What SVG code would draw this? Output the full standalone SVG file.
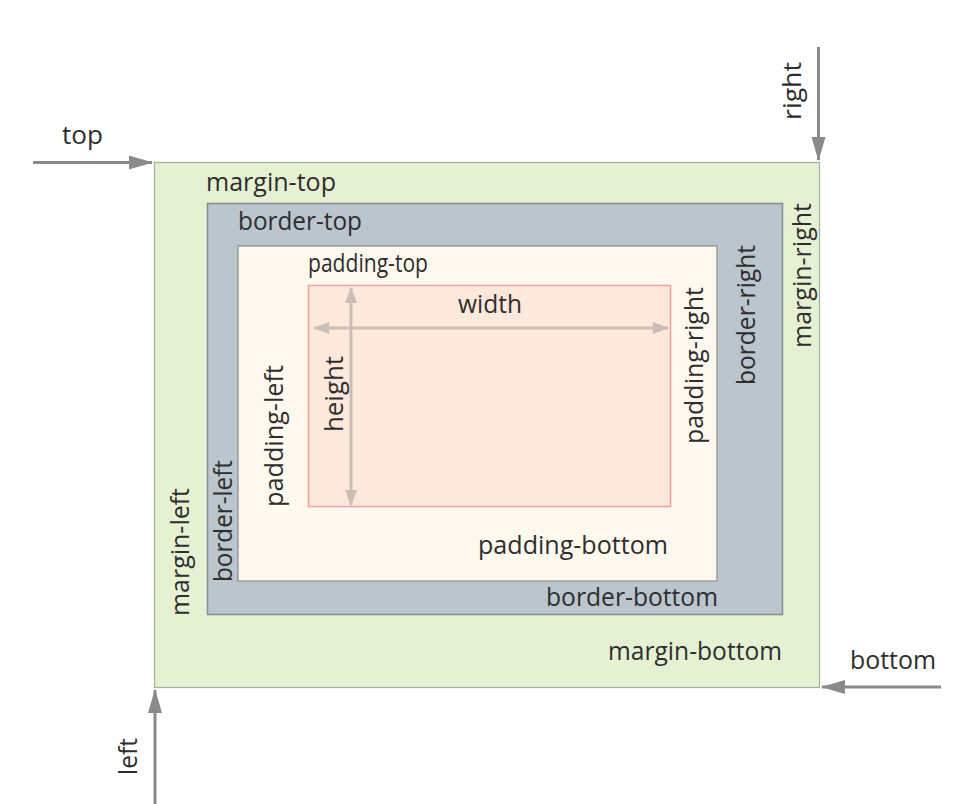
<svg xmlns="http://www.w3.org/2000/svg" width="961" height="804" viewBox="0 0 961 804">
<style>
text { font-family: "Open Sans", "Liberation Sans", sans-serif; font-size: 25px; fill: #2e2e2e; }
.outer { stroke: #8a8a8a; stroke-width: 3; fill: none; }
.inner { stroke: #cbbfb5; stroke-width: 3; fill: none; }
</style>
<defs>
<marker id="ah" markerUnits="userSpaceOnUse" markerWidth="24" markerHeight="14" refX="23" refY="7" orient="auto">
<path d="M0,0 L24,7 L0,14 Z" fill="#8a8a8a"/>
</marker>
<marker id="ahi" markerUnits="userSpaceOnUse" markerWidth="16" markerHeight="12" refX="15" refY="6" orient="auto-start-reverse">
<path d="M0,0 L16,6 L0,12 Z" fill="#cbbfb5"/>
</marker>
</defs>
<rect width="961" height="804" fill="#ffffff"/>
<g id="margin-box">
<rect x="154.5" y="162.5" width="665" height="525" fill="#e6f1d3" stroke="#a6b197" stroke-width="1.2"/>
<text x="206" y="191" textLength="130" lengthAdjust="spacingAndGlyphs">margin-top</text>
<text x="608" y="660" textLength="174" lengthAdjust="spacingAndGlyphs">margin-bottom</text>
<text transform="translate(189,616) rotate(-90)" textLength="128" lengthAdjust="spacingAndGlyphs">margin-left</text>
<text transform="translate(811,348) rotate(-90)" textLength="145" lengthAdjust="spacingAndGlyphs">margin-right</text>
</g>
<g id="border-box">
<rect x="207.5" y="203.5" width="575" height="411" fill="#bac5cd" stroke="#858d93" stroke-width="1.5"/>
<text x="238" y="230" textLength="124" lengthAdjust="spacingAndGlyphs">border-top</text>
<text x="546" y="606" textLength="172" lengthAdjust="spacingAndGlyphs">border-bottom</text>
<text transform="translate(232,582) rotate(-90)" textLength="122" lengthAdjust="spacingAndGlyphs">border-left</text>
<text transform="translate(755,385) rotate(-90)" textLength="140" lengthAdjust="spacingAndGlyphs">border-right</text>
</g>
<g id="padding-box">
<rect x="238" y="246" width="479" height="335" fill="#fdf9ee" stroke="#8c8c8c" stroke-width="1.2"/>
<text x="308" y="272" textLength="120" lengthAdjust="spacingAndGlyphs">padding-top</text>
<text x="478" y="554" textLength="190" lengthAdjust="spacingAndGlyphs">padding-bottom</text>
<text transform="translate(283,507) rotate(-90)" textLength="142" lengthAdjust="spacingAndGlyphs">padding-left</text>
<text transform="translate(703,444) rotate(-90)" textLength="157" lengthAdjust="spacingAndGlyphs">padding-right</text>
</g>
<g id="content-box">
<rect x="308.5" y="285.5" width="362" height="221" fill="#fde8dc" stroke="#f4a09d" stroke-width="1.5"/>
<text x="458" y="313" textLength="64" lengthAdjust="spacingAndGlyphs">width</text>
<text transform="translate(343,432) rotate(-90)" textLength="76" lengthAdjust="spacingAndGlyphs">height</text>
</g>
<g id="connectors">
<line class="inner" x1="314" y1="328" x2="668" y2="328" marker-start="url(#ahi)" marker-end="url(#ahi)"/>
<line class="inner" x1="351" y1="288" x2="351" y2="505" marker-start="url(#ahi)" marker-end="url(#ahi)"/>
<line class="outer" x1="33" y1="162.5" x2="152" y2="162.5" marker-end="url(#ah)"/>
<line class="outer" x1="818.5" y1="47" x2="818.5" y2="160" marker-end="url(#ah)"/>
<line class="outer" x1="941" y1="687" x2="822" y2="687" marker-end="url(#ah)"/>
<line class="outer" x1="155" y1="804" x2="155" y2="690" marker-end="url(#ah)"/>
</g>
<g id="labels">
<text x="62" y="144" textLength="41" lengthAdjust="spacingAndGlyphs">top</text>
<text x="850" y="669" textLength="86" lengthAdjust="spacingAndGlyphs">bottom</text>
<text transform="translate(801,120) rotate(-90)" textLength="58" lengthAdjust="spacingAndGlyphs">right</text>
<text transform="translate(137,775) rotate(-90)" textLength="37" lengthAdjust="spacingAndGlyphs">left</text>
</g>
</svg>
